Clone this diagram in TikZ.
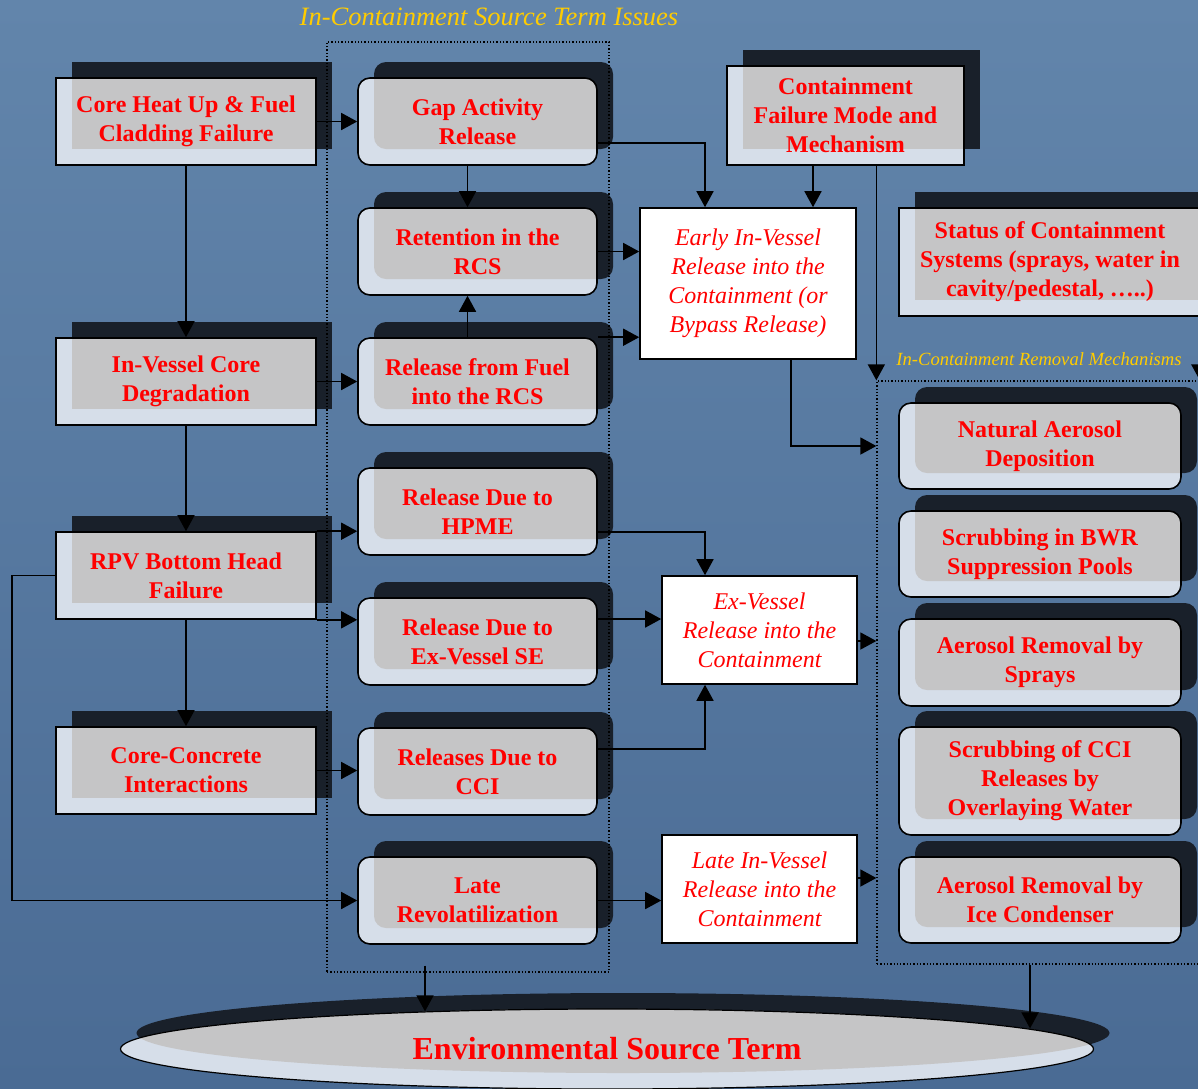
\documentclass[tikz,border=0pt]{standalone}
\usepackage{fontspec}
\setmainfont{Liberation Serif}
\usetikzlibrary{arrows.meta,positioning,calc,shadows,shapes.geometric}

\definecolor{bgtop}{HTML}{6285AB}
\definecolor{bgbot}{HTML}{4A6B94}
\definecolor{facec}{HTML}{D6DEE9}
\definecolor{bandc}{HTML}{C5C5C6}
\definecolor{shadec}{HTML}{19202A}
\definecolor{labelc}{HTML}{FFCC00}
\definecolor{txtc}{HTML}{FF0000}

\begin{document}
\begin{tikzpicture}[x=1pt,y=-1pt,
  arr/.style={-{Triangle[length=16pt,width=17pt]}, line width=1.6pt},
  stage/.style={draw, line width=1.6pt, fill=facec, text=txtc, align=center,
    font=\fontsize{24}{29}\selectfont\bfseries, inner sep=0pt,
    general shadow={fill=shadec, shadow xshift=16pt, shadow yshift=16pt},
    path picture={\fill[bandc] ([shift={(16pt,16pt)}]path picture bounding box.south west)
      rectangle ([shift={(16pt,16pt)}]path picture bounding box.north east);}},
  causebox/.style={stage, minimum width=260pt, minimum height=87pt},
  relbox/.style={stage, rounded corners=12pt, minimum width=239pt, minimum height=87pt},
  mechbox/.style={stage, rounded corners=12pt, minimum width=282pt, minimum height=86pt},
  outbox/.style={draw, line width=1.6pt, fill=white, text=txtc, align=center,
    font=\fontsize{24}{29}\selectfont\itshape, inner sep=0pt},
  region/.style={draw, dotted, line width=1.3pt, inner sep=0pt},
  regionlabel/.style={text=labelc, inner sep=0pt},
  envbox/.style={ellipse, draw, line width=1.2pt, fill=facec, text=txtc,
    font=\fontsize{32}{36}\selectfont\bfseries, minimum width=973pt, minimum height=80pt, inner sep=0pt,
    general shadow={fill=shadec, shadow xshift=16pt, shadow yshift=16pt},
    path picture={\fill[bandc] ([shift={(16pt,16pt)}]path picture bounding box.center)
      ellipse [x radius=486.5pt, y radius=40pt];}}]

  % background
  \clip (0,0) rectangle (1198,1088);
  \shade[top color=bgtop, bottom color=bgbot] (0,0) rectangle (1198,1088);

  % causes
  \node[causebox] (heat) at (186,121.5) {Core Heat Up \& Fuel\\Cladding Failure};
  \node[causebox] (degr) at (186,381.5) {In-Vessel Core\\Degradation};
  \node[causebox] (rpv) at (186,575.5) {RPV Bottom Head\\Failure};
  \node[causebox] (mcci) at (186,770.5) {Core-Concrete\\Interactions};

  % releases
  \node[relbox] (gap) at (477.5,121.5) {Gap Activity\\Release};
  \node[relbox] (ret) at (477.5,251.5) {Retention in the\\RCS};
  \node[relbox] (rfuel) at (477.5,381.5) {Release from Fuel\\into the RCS};
  \node[relbox] (hpme) at (477.5,511.5) {Release Due to\\HPME};
  \node[relbox] (exse) at (477.5,641.5) {Release Due to\\Ex-Vessel SE};
  \node[relbox] (ccirel) at (477.5,771.5) {Releases Due to\\CCI};
  \node[relbox] (revol) at (477.5,900.5) {Late\\Revolatilization};

  % containment
  \node[causebox, minimum width=237pt, minimum height=99pt] (cfm) at (845.5,115.5) {Containment\\Failure Mode and\\Mechanism};
  \node[causebox, minimum width=302pt, minimum height=108pt] (status) at (1050,262) {Status of Containment\\Systems (sprays, water in\\cavity/pedestal, …..)};

  \node[outbox, minimum width=216pt, minimum height=151pt] (early) at (748,283.5) {Early In-Vessel\\Release into the\\Containment (or\\Bypass Release)};
  \node[outbox, minimum width=195pt, minimum height=108pt] (exv) at (759.5,630) {Ex-Vessel\\Release into the\\Containment};
  \node[outbox, minimum width=195pt, minimum height=108pt] (late) at (759.5,889) {Late In-Vessel\\Release into the\\Containment};

  % removal mechanisms
  \node[mechbox] (nat) at (1040,446) {Natural Aerosol\\Deposition};
  \node[mechbox] (bwr) at (1040,554) {Scrubbing in BWR\\Suppression Pools};
  \node[mechbox, minimum height=87pt] (spray) at (1040,662.5) {Aerosol Removal by\\Sprays};
  \node[mechbox, minimum height=108pt] (sccci) at (1040,781) {Scrubbing of CCI\\Releases by\\Overlaying Water};
  \node[mechbox] (ice) at (1040,900) {Aerosol Removal by\\Ice Condenser};

  \node[envbox] (env) at (607,1049) {Environmental Source Term};

  % dotted regions
  \node[region, minimum width=282pt, minimum height=930pt] (issues) at (468,507) {};
  \node[region, minimum width=340pt, minimum height=583pt] (removal) at (1047,672.5) {};
  \node[regionlabel, font=\fontsize{26.5}{30}\selectfont\itshape] (issuestitle) at (489,17) {In-Containment Source Term Issues};
  \node[regionlabel, font=\fontsize{18.6}{22}\selectfont\itshape] (removaltitle) at (1039,359) {In-Containment Removal Mechanisms};

  % left column
  \draw[arr] (heat.east) -- (gap.west);
  \draw[arr] (heat.south) -- (degr.north);
  \draw[arr] (degr.east) -- (rfuel.west);
  \draw[arr] (degr.south) -- (rpv.north);
  \draw[arr] (rpv.north east) -- (rpv.north east -| hpme.west);
  \draw[arr] (rpv.south east) -- (rpv.south east -| exse.west);
  \draw[arr] (rpv.south) -- (mcci.north);
  \draw[arr] (rpv.west) -- ++(-43,0) |- (revol.west);
  \draw[arr] (mcci.east) -- (mcci.east -| ccirel.west);

  % middle column
  \draw[arr] ([xshift=-10pt]gap.south) -- ([xshift=-10pt]ret.north);
  \draw[arr] ([xshift=-10pt]rfuel.north) -- ([xshift=-10pt]ret.south);
  \draw[arr] ([yshift=-21.5pt]gap.east) -| ([xshift=-43pt]early.north);
  \draw[arr] (ret.east) -- (ret.east -| early.west);
  \draw[arr] (rfuel.north east) -- (rfuel.north east -| early.west);
  \draw[arr] ([xshift=-32.5pt]cfm.south) -- ([xshift=-32.5pt]cfm.south |- early.north);
  \draw[arr] ([yshift=-20.5pt]hpme.east) -| ([xshift=-54.5pt]exv.north);
  \draw[arr] ([yshift=22.5pt]exse.east) -- ([yshift=22.5pt]exse.east -| exv.west);
  \draw[arr] ([yshift=22.5pt]ccirel.east) -| ([xshift=-54.5pt]exv.south);
  \draw[arr] (revol.east) -- (revol.east -| late.west);

  % into removal region
  \draw[arr] (cfm.south -| removal.west) -- (removal.north west);
  \draw[arr] ([xshift=-2pt]status.south east) -- ([xshift=-2pt]status.south east |- removal.north);
  \draw[arr] ([xshift=43pt]early.south) |- (nat -| removal.west);
  \draw[arr] ([yshift=-11pt]exv.east) -- ([yshift=-11pt]exv.east -| removal.west);
  \draw[arr] ([yshift=11pt]late.east) -- ([yshift=11pt]late.east -| removal.west);

  % to environment
  \draw[arr] ([xshift=-43pt,yshift=7pt]issues.south) -- ([xshift=-43pt,yshift=-3pt]issues.south |- env.north);
  \draw[arr] ([xshift=-17pt]removal.south) -- ([xshift=-17pt,yshift=-20pt]removal.south |- env.north);
\end{tikzpicture}
\end{document}
